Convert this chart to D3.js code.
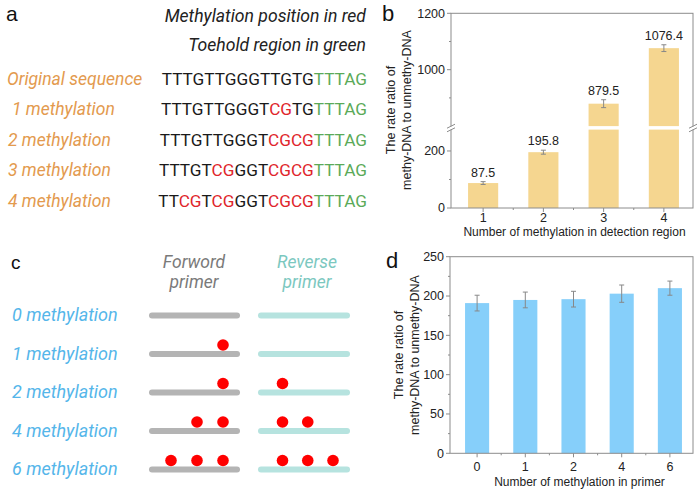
<!DOCTYPE html>
<html><head><meta charset="utf-8">
<script src="https://cdn.jsdelivr.net/npm/d3@7"></script>
<style>body{margin:0;background:#fff}svg{display:block}</style>
</head><body>
<svg id="c" width="700" height="492"></svg>
<script>
// ---------- data ----------
const seqLabels = ["Original sequence", "1 methylation", "2 methylation", "3 methylation", "4 methylation"];
const seqs = ["TTTGTTGGGTTGTGTTTAG", "TTTGTTGGGTCGTGTTTAG", "TTTGTTGGGTCGCGTTTAG", "TTTGTCGGGTCGCGTTTAG", "TTCGTCGGGTCGCGTTTAG"];
const redPos = [[], [10, 11], [10, 11, 12, 13], [5, 6, 10, 11, 12, 13], [2, 3, 5, 6, 10, 11, 12, 13]];
const toeholdStart = 14;

const bCats = ["1", "2", "3", "4"];
const bVals = [87.5, 195.8, 879.5, 1076.4];
const bErr = [5, 7, 14, 12];
const bLabels = ["87.5", "195.8", "879.5", "1076.4"];

const cRows = ["0 methylation", "1 methylation", "2 methylation", "4 methylation", "6 methylation"];
const fwdSites = [[], [3], [3], [2, 3], [1, 2, 3]];
const revSites = [[], [], [1], [1, 2], [1, 2, 3]];

const dCats = ["0", "1", "2", "4", "6"];
const dVals = [191, 195, 196, 203, 210];
const dErr = [10, 10, 10, 11, 9];

// ---------- setup ----------
const svg = d3.select("#c");
const AX = "#8c8c8c", ARIAL = "Liberation Sans, Arial, sans-serif", ROB = "Roboto, sans-serif";

function panelLetter(t, x, y, size) {
  svg.append("text").attr("x", x).attr("y", y).attr("font-family", ARIAL)
    .attr("font-size", size).attr("fill", "#111").text(t);
}

// ---------- panel a ----------
panelLetter("a", 6, 21, 21);
svg.append("text").attr("x", 366).attr("y", 22).attr("text-anchor", "end")
  .attr("font-family", ROB).attr("font-style", "italic").attr("font-size", 17.6).attr("fill", "#222")
  .text("Methylation position in red");
svg.append("text").attr("x", 366).attr("y", 51).attr("text-anchor", "end")
  .attr("font-family", ROB).attr("font-style", "italic").attr("font-size", 17.6).attr("fill", "#222")
  .text("Toehold region in green");
const aY = d3.scalePoint().domain(d3.range(seqs.length)).range([84.5, 206.5]);
const aLabX = [7, 12, 8, 8, 8];
seqLabels.forEach((l, i) => {
  svg.append("text").attr("x", aLabX[i]).attr("y", aY(i)).attr("font-family", ROB)
    .attr("font-style", "italic").attr("font-size", 17.5).attr("fill", "#E39A4E").text(l);
  const t = svg.append("text").attr("x", 367).attr("y", aY(i)).attr("text-anchor", "end")
    .attr("font-family", ROB).attr("font-size", 17.2);
  seqs[i].split("").forEach((ch, k) => {
    const col = k >= toeholdStart ? "#5BAA58" : (redPos[i].includes(k) ? "#E0252B" : "#1a1a1a");
    t.append("tspan").attr("fill", col).text(ch);
  });
});

// ---------- panel b ----------
const bL = 451, bR = 693, bT = 13.3, bB = 208;
const xB = d3.scaleBand().domain(bCats).range([453, 694]).paddingInner(0.5).paddingOuter(0.25);
const yLow = d3.scaleLinear().domain([0, 275]).range([bB, 129.6]);
const yHigh = d3.scaleLinear().domain([800, 1200]).range([126.1, bT]);
const gapY = 128;
const yB = v => v <= 275 ? yLow(v) : yHigh(v);

panelLetter("b", 382, 21, 22);
const gb = svg.append("g");
bVals.forEach((v, i) => {
  const x = xB(bCats[i]), w = xB.bandwidth();
  if (v <= 275) {
    gb.append("rect").attr("x", x).attr("y", yLow(v)).attr("width", w).attr("height", bB - yLow(v)).attr("fill", "#F5D690");
  } else {
    gb.append("rect").attr("x", x).attr("y", yLow(275)).attr("width", w).attr("height", bB - yLow(275)).attr("fill", "#F5D690");
    gb.append("rect").attr("x", x).attr("y", yHigh(v)).attr("width", w).attr("height", yHigh(800) - yHigh(v)).attr("fill", "#F5D690");
  }
  const cx = x + w / 2, t = yB(v + bErr[i]), b = yB(v - bErr[i]);
  gb.append("line").attr("x1", cx).attr("x2", cx).attr("y1", t).attr("y2", b).attr("stroke", "#888");
  [t, b].forEach(yy => gb.append("line").attr("x1", cx - 2.5).attr("x2", cx + 2.5).attr("y1", yy).attr("y2", yy).attr("stroke", "#888"));
  gb.append("text").attr("x", cx).attr("y", t - 5).attr("text-anchor", "middle")
    .attr("font-family", ARIAL).attr("font-size", 12.5).attr("fill", "#222").text(bLabels[i]);
});
function frame(L, R, T, B) {
  svg.append("rect").attr("x", L).attr("y", T).attr("width", R - L).attr("height", B - T)
    .attr("fill", "none").attr("stroke", AX).attr("stroke-width", 1);
}
frame(bL, bR, bT, bB);
[bL, bR].forEach(xx => {
  svg.append("rect").attr("x", xx - 2).attr("y", gapY - 1.6).attr("width", 4).attr("height", 3.2).attr("fill", "#fff");
  [-1.8, 1.8].forEach(o => svg.append("line").attr("x1", xx - 4).attr("x2", xx + 4)
    .attr("y1", gapY + o + 2).attr("y2", gapY + o - 2).attr("stroke", AX).attr("stroke-width", 1));
});
function yTicks(scale, majors, minors, L) {
  majors.forEach(v => {
    const y = scale(v);
    svg.append("line").attr("x1", L - 4).attr("x2", L).attr("y1", y).attr("y2", y).attr("stroke", AX);
    svg.append("text").attr("x", L - 6).attr("y", y).attr("dy", "0.35em").attr("text-anchor", "end")
      .attr("font-family", ARIAL).attr("font-size", 12.5).attr("fill", "#222").text(v);
  });
  minors.forEach(v => {
    const y = scale(v);
    svg.append("line").attr("x1", L - 2).attr("x2", L).attr("y1", y).attr("y2", y).attr("stroke", AX);
  });
}
yTicks(yLow, [0, 200], [100], bL);
yTicks(yHigh, [1000, 1200], [900, 1100], bL);
function xTicks(scale, cats, B, labY) {
  const step = scale.step();
  cats.forEach((c, i) => {
    const cx = scale(c) + scale.bandwidth() / 2;
    svg.append("line").attr("x1", cx).attr("x2", cx).attr("y1", B).attr("y2", B + 4).attr("stroke", AX);
    svg.append("text").attr("x", cx).attr("y", labY).attr("text-anchor", "middle")
      .attr("font-family", ARIAL).attr("font-size", 12.5).attr("fill", "#222").text(c);
    if (i < cats.length - 1) {
      const mx = cx + step / 2;
      svg.append("line").attr("x1", mx).attr("x2", mx).attr("y1", B).attr("y2", B + 2).attr("stroke", AX);
    }
  });
}
xTicks(xB, bCats, bB, 221.5);
function yTitle(cy, x1, x2) {
  const g = svg.append("g").attr("font-family", ARIAL).attr("font-size", 12.5).attr("fill", "#222").attr("text-anchor", "middle");
  g.append("text").attr("transform", `translate(${x1},${cy}) rotate(-90)`).text("The rate ratio of");
  g.append("text").attr("transform", `translate(${x2},${cy}) rotate(-90)`).text("methy-DNA to unmethy-DNA");
}
yTitle(110, 395, 411);
svg.append("text").attr("x", 574.5).attr("y", 236).attr("text-anchor", "middle").attr("font-family", ARIAL)
  .attr("font-size", 12).attr("fill", "#222").text("Number of methylation in detection region");

// ---------- panel c ----------
panelLetter("c", 11, 269, 19);
[["Forword", 267.5], ["primer", 288]].forEach(([t, y]) => svg.append("text").attr("x", 194).attr("y", y)
  .attr("text-anchor", "middle").attr("font-family", ROB).attr("font-style", "italic").attr("font-size", 17.5)
  .attr("fill", "#7a7a7a").text(t));
[["Reverse", 267.5], ["primer", 288]].forEach(([t, y]) => svg.append("text").attr("x", 307).attr("y", y)
  .attr("text-anchor", "middle").attr("font-family", ROB).attr("font-style", "italic").attr("font-size", 17.5)
  .attr("fill", "#7CC8BF").text(t));
const cY = d3.scalePoint().domain(d3.range(cRows.length)).range([321, 475]);
const fX = d3.scaleLinear().domain([1, 3]).range([171, 223]);
const rX = d3.scaleLinear().domain([1, 3]).range([282.5, 333]);
cRows.forEach((r, i) => {
  const by = cY(i), ly = by - 5.5;
  svg.append("text").attr("x", 12).attr("y", by).attr("font-family", ROB).attr("font-style", "italic")
    .attr("font-size", 18).attr("fill", "#55B6EA").text(r);
  svg.append("line").attr("x1", 152).attr("x2", 237).attr("y1", ly).attr("y2", ly)
    .attr("stroke", "#B4B4B4").attr("stroke-width", 6).attr("stroke-linecap", "round");
  svg.append("line").attr("x1", 261).attr("x2", 347).attr("y1", ly).attr("y2", ly)
    .attr("stroke", "#B6E3DF").attr("stroke-width", 6).attr("stroke-linecap", "round");
  fwdSites[i].forEach(s => svg.append("circle").attr("cx", fX(s)).attr("cy", ly - 9).attr("r", 5.8).attr("fill", "#FF0000"));
  revSites[i].forEach(s => svg.append("circle").attr("cx", rX(s)).attr("cy", ly - 9).attr("r", 5.8).attr("fill", "#FF0000"));
});

// ---------- panel d ----------
const dL = 450, dR = 693, dT = 256.7, dB = 453.3;
const xD = d3.scaleBand().domain(dCats).range([453, 694]).paddingInner(0.5).paddingOuter(0.25);
const yD = d3.scaleLinear().domain([0, 250]).range([dB, dT]);
panelLetter("d", 386, 268, 22);
dVals.forEach((v, i) => {
  const x = xD(dCats[i]), w = xD.bandwidth(), cx = x + w / 2;
  svg.append("rect").attr("x", x).attr("y", yD(v)).attr("width", w).attr("height", dB - yD(v)).attr("fill", "#86CFFA");
  const t = yD(v + dErr[i]), b = yD(v - dErr[i]);
  svg.append("line").attr("x1", cx).attr("x2", cx).attr("y1", t).attr("y2", b).attr("stroke", "#888");
  [t, b].forEach(yy => svg.append("line").attr("x1", cx - 2.5).attr("x2", cx + 2.5).attr("y1", yy).attr("y2", yy).attr("stroke", "#888"));
});
frame(dL, dR, dT, dB);
yTicks(yD, [0, 50, 100, 150, 200, 250], [25, 75, 125, 175, 225], dL);
xTicks(xD, dCats, dB, 471);
yTitle(355, 403, 419);
svg.append("text").attr("x", 579.5).attr("y", 486).attr("text-anchor", "middle").attr("font-family", ARIAL)
  .attr("font-size", 12).attr("fill", "#222").text("Number of methylation in primer");
</script>
</body></html>
